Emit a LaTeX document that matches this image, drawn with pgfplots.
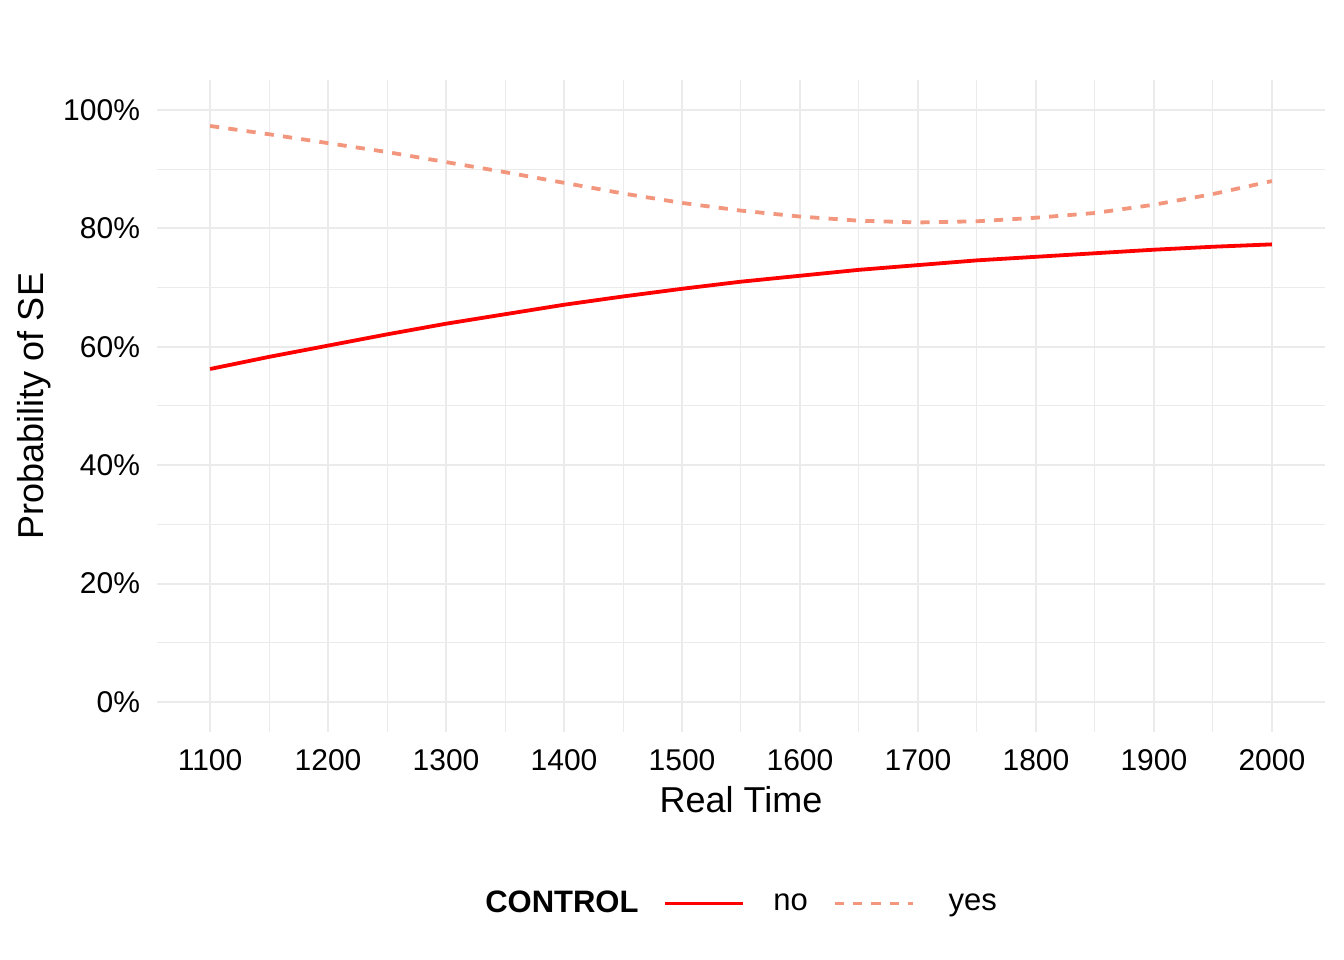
\documentclass[border=0pt]{standalone}
\usepackage{pgfplots}
\pgfplotsset{compat=1.18}
\usepackage{fontspec}
\setmainfont{Liberation Sans}
\definecolor{gridc}{HTML}{EBEBEB}
\definecolor{noc}{HTML}{FF0000}
\definecolor{yesc}{HTML}{F2967D}
\begin{document}
\begin{tikzpicture}
\useasboundingbox (0,0) rectangle (672bp,480bp);
\begin{axis}[
  at={(78.5bp,114.2bp)}, anchor=south west,
  scale only axis, width=584bp, height=325.6bp,
  xmin=1055, xmax=2045, ymin=-5, ymax=105,
  axis line style={draw=none},
  major tick length=0pt, minor tick length=0pt,
  xtick={1100,1200,...,2000},
  minor xtick={1150,1250,...,1950},
  ytick={0,20,...,100},
  minor ytick={10,30,...,90},
  yticklabels={0\%,20\%,40\%,60\%,80\%,100\%},
  grid=both,
  major grid style={gridc, line width=1.05bp},
  minor grid style={gridc, line width=0.5bp},
  /pgf/number format/assume math mode=true,
  /pgf/number format/1000 sep={},
  tick label style={font=\fontsize{15bp}{18bp}\selectfont, black},
  xticklabel style={yshift=-5.5bp},
  yticklabel style={xshift=-5bp},
  xlabel={Real Time},
  ylabel={Probability of SE},
  label style={font=\fontsize{18bp}{21bp}\selectfont},
  xlabel style={at={(0.5,-0.105)}, anchor=center},
  ylabel style={at={(-0.105,0.5)}, anchor=center},
  legend columns=-1,
  legend style={draw=none, fill=none, at={(0.5086,-0.264)}, anchor=center,
    font=\fontsize{15.5bp}{18bp}\selectfont,
    /tikz/every even column/.append style={column sep=10.5bp}},
  legend image code/.code={\draw[#1] (0bp,0bp) -- (39bp,0bp);},
  legend cell align=left,
]
\addlegendimage{empty legend}
\addlegendentry{\hspace{-10bp}\textbf{CONTROL}}
\addplot[noc, line width=1.9bp, no marks] coordinates {
(1100,56.25) (1150,58.3) (1200,60.2) (1250,62.1) (1300,63.9) (1350,65.5) (1400,67.1)
(1450,68.5) (1500,69.8) (1550,71.0) (1600,72.0) (1650,73.0) (1700,73.8)
(1750,74.6) (1800,75.2) (1850,75.8) (1900,76.4) (1950,76.9) (2000,77.3)
};
\addlegendentry{\hspace{12bp}no}
\addplot[yesc, line width=1.9bp, no marks, dash pattern=on 4.6bp off 4.6bp] coordinates {
(1100,97.3) (1150,95.9) (1200,94.4) (1250,92.9) (1300,91.2) (1350,89.5) (1400,87.7)
(1450,85.9) (1500,84.3) (1550,83.0) (1600,82.0) (1650,81.3) (1700,81.0)
(1750,81.2) (1800,81.8) (1850,82.6) (1900,84.0) (1950,85.8) (2000,88.0)
};
\addlegendentry{\hspace{15bp}yes}
\end{axis}
\end{tikzpicture}
\end{document}
